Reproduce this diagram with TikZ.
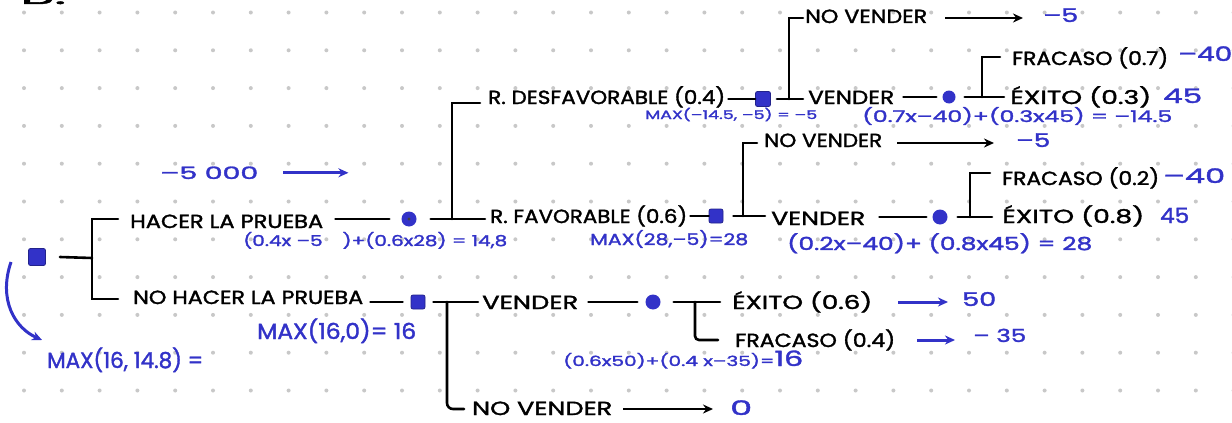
\documentclass[tikz,border=0pt]{standalone}
\usepackage{fontspec}
\setmainfont{Poppins}[FakeBold=1.6,AutoFakeBold=1.6]
\usepackage{graphicx}
\usetikzlibrary{arrows.meta}
\definecolor{inkblue}{RGB}{50,50,200}
\definecolor{dotgray}{RGB}{200,200,200}
\newcommand\fitw[2]{\resizebox{#1pt}{\height}{#2}}
\begin{document}
\begin{tikzpicture}[x=1pt,y=-1pt,
  lbl/.style={anchor=base west, inner sep=0pt, font=\fontsize{19}{19}\selectfont},
  blu/.style={anchor=base west, inner sep=0pt, text=inkblue, font=\fontsize{#1}{#1}\selectfont},
  con/.style={line width=2.6pt, line cap=round},
  arr/.style={line width=2.4pt, -{Stealth[length=10pt,width=9pt]}},
  barr/.style={arr, draw=inkblue, line width=3pt},
  dec/.style={rectangle, rounded corners=2pt, fill=inkblue, draw=inkblue!70!black, line width=0.8pt, minimum size=#1pt, inner sep=0pt},
  chn/.style={circle, fill=inkblue, minimum size=#1pt, inner sep=0pt}
]
\fill[white] (0,0) rectangle (1232,423);
\useasboundingbox (0,0) rectangle (1232,423);
\foreach \i in {0,...,32} \foreach \j in {0,...,10}
  \fill[dotgray] ({24+37.8*\i},{12.5+37.8*\j}) circle (2pt);

% partial heading at the top edge
\node[anchor=base west, inner sep=0pt, font=\fontsize{22}{22}\selectfont] (bq) at (20,4) {\fitw{46}{B.}};

% black labels
\node[lbl] (hp) at (130,228) {\fitw{193}{HACER LA PRUEBA}};
\node[lbl] (nhp) at (133,304) {\fitw{230}{NO HACER LA PRUEBA}};
\node[lbl] (rd) at (488,104) {\fitw{237}{R. DESFAVORABLE (0.4)}};
\node[lbl] (rf) at (490,223) {\fitw{197}{R. FAVORABLE (0.6)}};
\node[lbl] (nv1) at (805,23) {\fitw{122}{NO VENDER}};
\node[lbl] (v1) at (808,104) {\fitw{86}{VENDER}};
\node[lbl] (fr1) at (1012,65) {\fitw{156}{FRACASO (0.7)}};
\node[lbl] (ex1) at (1010,104) {\fitw{141}{ÉXITO (0.3)}};
\node[lbl] (nv2) at (764,147) {\fitw{118}{NO VENDER}};
\node[lbl] (v2) at (771,225) {\fitw{94}{VENDER}};
\node[lbl] (fr2) at (1002,185) {\fitw{157}{FRACASO (0.2)}};
\node[lbl] (ex2) at (1002,223) {\fitw{142}{ÉXITO (0.8)}};
\node[lbl] (v3) at (482,309) {\fitw{96}{VENDER}};
\node[lbl] (ex3) at (732,309) {\fitw{140}{ÉXITO (0.6)}};
\node[lbl] (fr3) at (735,347) {\fitw{160}{FRACASO (0.4)}};
\node[lbl] (nv3) at (472,415) {\fitw{140}{NO VENDER}};

% decision and chance nodes
\node[dec=17] (r) at (37,257) {};
\node[chn=15] (c1) at (409,219) {};
\fill[black!75] (c1) circle (1.6pt);
\node[dec=15] (d2) at (763,99) {};
\node[chn=13] (c2) at (949,97) {};
\node[dec=14] (d3) at (716,216) {};
\node[chn=15] (c3) at (940,217) {};
\node[dec=14] (d4) at (418,302) {};
\node[chn=15] (c4) at (653,302) {};

% blue annotations
\node[blu=17] (b1) at (160,179) {\fitw{98}{–5 000}};
\node[blu=15] (b2) at (243,246) {\fitw{264}{(0.4x –5\quad)+(0.6x28) = 14,8}};
\node[blu=16] (b3) at (590,245) {\fitw{158}{MAX(28,–5)=28}};
\node[blu=12] (b4) at (645,119) {\fitw{172}{MAX(–14.5, –5) = –5}};
\node[blu=16] (b5) at (862,122) {\fitw{310}{(0.7x–40)+(0.3x45) = –14.5}};
\node[blu=18] (b6) at (787,250) {\fitw{305}{(0.2x–40)+ (0.8x45) = 28}};
\node[blu=19] (b7) at (1043,22) {\fitw{35}{–5}};
\node[blu=20] (b8) at (1178,61) {\fitw{54}{–40}};
\node[blu=20] (b9) at (1163,103) {\fitw{39}{45}};
\node[blu=19] (b10) at (1016,147) {\fitw{34}{–5}};
\node[blu=20] (b11) at (1163,183) {\fitw{62}{–40}};
\node[blu=21] (b12) at (1160,223) {\fitw{29}{45}};
\node[blu=22] (b13) at (257,339) {\fitw{159}{MAX(16,0)= 16}};
\node[blu=14] (b14) at (563,366) {\fitw{240}{(0.6x50)+(0.4 x–35)={\fontsize{21}{21}\selectfont 16}}};
\node[blu=19] (b15) at (962,306) {\fitw{34}{50}};
\node[blu=18] (b16) at (973,342) {\fitw{53}{– 35}};
\node[blu=22] (b17) at (47,368) {\fitw{156}{MAX(16, 14.8) =}};
\node[blu=20] (b18) at (730,415) {\fitw{22}{0}};

% junction coordinates
\coordinate (rj) at (92,258);
\coordinate (hpL) at (118,219);
\coordinate (nhpL) at (118,299);
\coordinate (c1j) at (452,219);
\coordinate (rdL) at (480,103);
\coordinate (d2j) at (789,99);
\coordinate (nv1L) at (803,18);
\coordinate (c2j) at (982,97);
\coordinate (fr1L) at (1000,57);
\coordinate (d3j) at (743,216);
\coordinate (nv2L) at (757,143);
\coordinate (c3j) at (970,217);
\coordinate (fr2L) at (990,173);
\coordinate (d4j) at (447,302);
\coordinate (nv3L) at (464,409);
\coordinate (c4j) at (695,302);
\coordinate (fr3L) at (718,340);
\coordinate (arcS) at (11,262);
\coordinate (arcE) at (42,340);

% root
\draw[con] ([xshift=14pt]r.east) -- (rj);
\draw[con] (hpL) -- (rj |- hpL) -- (rj |- nhpL) -- (nhpL);
% hacer la prueba
\draw[con] ([xshift=12pt]hp.east |- c1) -- ([xshift=-12pt]c1.west);
\draw[con] ([xshift=14pt]c1.east) -- ([xshift=-5pt]rf.west |- c1);
\draw[con] (c1j) -- (c1j |- rdL) -- (rdL);
% desfavorable
\draw[con] ([xshift=3pt]rd.east |- d2) -- (d2.west);
\draw[con] ([xshift=6pt]d2.east) -- ([xshift=-5pt]v1.west |- d2);
\draw[con] (d2j) -- (d2j |- nv1L) -- (nv1L);
\draw[arr] ([xshift=18pt]nv1.east |- nv1L) -- ([xshift=-20pt]b7.west |- nv1L);
\draw[con] ([xshift=9pt]v1.east |- c2) -- ([xshift=-6pt]c2.west);
\draw[con] ([xshift=9pt]c2.east) -- ([xshift=-6pt]ex1.west |- c2);
\draw[con] (c2j) -- (c2j |- fr1L) -- (fr1L);
% favorable
\draw[con] ([xshift=3pt]rf.east |- d3) -- (d3.west);
\draw[con] ([xshift=10pt]d3.east) -- ([xshift=-6pt]v2.west |- d3);
\draw[con] (d3j) -- (d3j |- nv2L) -- (nv2L);
\draw[arr] ([xshift=15pt]nv2.east |- nv2L) -- ([xshift=-22pt]b10.west |- nv2L);
\draw[con] ([xshift=14pt]v2.east |- c3) -- ([xshift=-6pt]c3.west);
\draw[con] ([xshift=10pt]c3.east) -- ([xshift=-10pt]ex2.west |- c3);
\draw[con] (c3j) -- (c3j |- fr2L) -- (fr2L);
% no hacer la prueba
\draw[con] ([xshift=7pt]nhp.east |- d4) -- ([xshift=-8pt]d4.west);
\draw[con] ([xshift=8pt]d4.east) -- ([xshift=-4pt]v3.west |- d4);
\draw[con, rounded corners=6pt] (d4j) -- (d4j |- nv3L) -- (nv3L);
\draw[arr] ([xshift=11pt]nv3.east |- nv3L) -- ([xshift=-17pt]b18.west |- nv3L);
\draw[con] ([xshift=10pt]v3.east |- c4) -- ([xshift=-8pt]c4.west);
\draw[con] ([xshift=13pt]c4.east) -- ([xshift=-12pt]ex3.west |- c4);
\draw[con, rounded corners=4pt] (c4j) -- (c4j |- fr3L) -- (fr3L);
% blue arrows
\draw[barr] ([xshift=25pt]b1.east) -- ([xshift=90pt]b1.east);
\draw[barr] ([xshift=26pt]ex3.east |- c4) -- ([xshift=-14pt]b15.west |- c4);
\draw[barr] ([xshift=22pt]fr3.east |- fr3L) -- ([xshift=-18pt]b16.west |- fr3L);
\draw[barr] (arcS) .. controls (-2,300) and (15,328) .. (arcE);
\end{tikzpicture}
\end{document}
